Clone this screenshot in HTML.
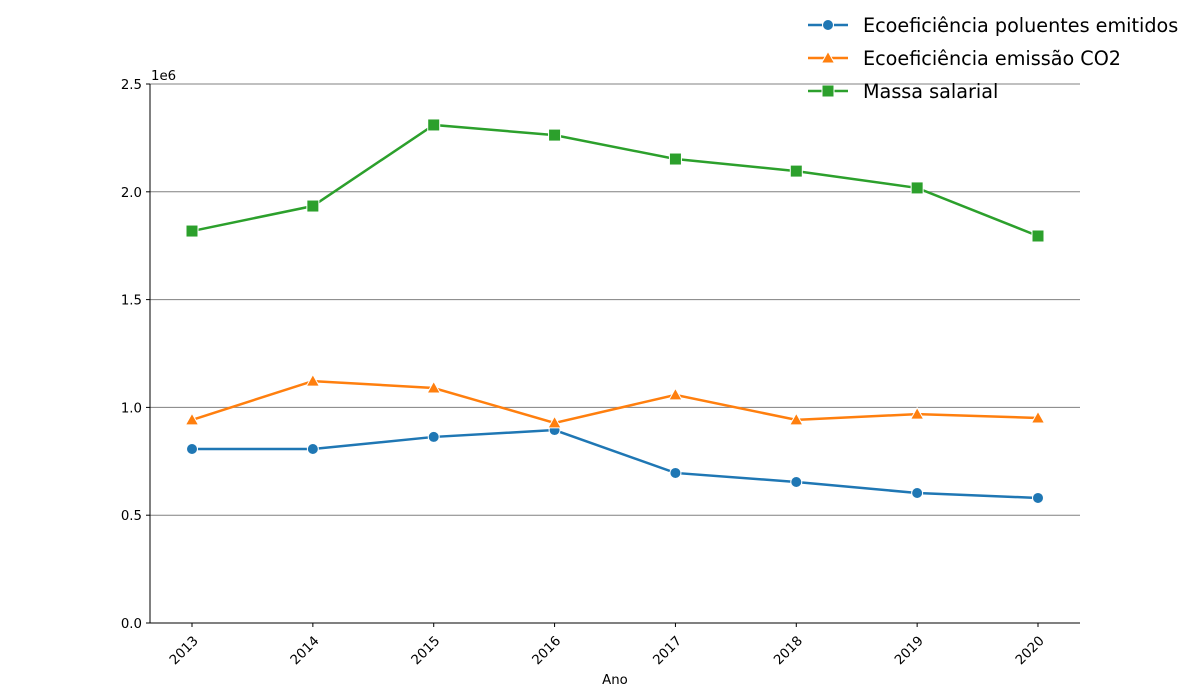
<!DOCTYPE html>
<html><head><meta charset="utf-8"><style>
html,body{margin:0;padding:0;background:#fff;}
svg{display:block;font-family:"DejaVu Sans","Liberation Sans",sans-serif;}
</style></head><body>
<svg id="chart" width="1200" height="700"></svg>
<script>
const years = ["2013","2014","2015","2016","2017","2018","2019","2020"];
const poluentes = [0.807,0.807,0.863,0.895,0.696,0.654,0.603,0.580];
const co2 = [0.942,1.122,1.090,0.928,1.058,0.942,0.969,0.951];
const massa = [1.818,1.934,2.310,2.263,2.152,2.096,2.018,1.795];
const yTicks = [0,0.5,1.0,1.5,2.0,2.5];
const yTickLabels = ["0.0","0.5","1.0","1.5","2.0","2.5"];

const NS="http://www.w3.org/2000/svg";
const svg=document.getElementById('chart');
const L=150,R=1080,T=84,B=623;
const yMax=2.5;
function xs(i){return 192+i*(1038-192)/(years.length-1);}
function ys(v){return B-(v/yMax)*(B-T);}
function mk(tag,attrs,parent){const e=document.createElementNS(NS,tag);for(const k in attrs)e.setAttribute(k,attrs[k]);(parent||svg).appendChild(e);return e;}

yTicks.forEach((v,i)=>{
  const y=ys(v);
  if(v>0){const g=mk('line',{x1:L,x2:R,y1:y,y2:y,stroke:'#808080','stroke-width':1});
  
  }
  mk('line',{x1:L-4,x2:L,y1:y,y2:y,stroke:'#000'});
  const t=mk('text',{x:L-8,y:y+5,'text-anchor':'end','font-size':13.3});
  t.textContent=yTickLabels[i];
  
  
});
const ex=mk('text',{x:L+1,y:T-4,'font-size':13.3});ex.textContent='1e6';



const sp1=mk('line',{x1:L,x2:L,y1:T,y2:B,stroke:'#000'});


const sp2=mk('line',{x1:L,x2:R,y1:B,y2:B,stroke:'#000'});



years.forEach((yr,i)=>{
  const x=xs(i);
  mk('line',{x1:x,x2:x,y1:B,y2:B+4,stroke:'#000'});
  const t=mk('text',{x:x,y:B+18,'text-anchor':'end','font-size':13.3,transform:`rotate(-45 ${x+4} ${B+10})`});
  t.textContent=yr;
  
  
});
const xl=mk('text',{x:615,y:684,'text-anchor':'middle','font-size':13.3});xl.textContent='Ano';



function marker(shape,x,y,color,parent){
  if(shape==='circle')return mk('circle',{cx:x,cy:y,r:5.5,fill:color,stroke:'#fff','stroke-width':1},parent);
  if(shape==='tri')return mk('polygon',{points:`${x},${y-6.5} ${x+6.5},${y+5} ${x-6.5},${y+5}`,fill:color,stroke:'#fff','stroke-width':1},parent);
  return mk('rect',{x:x-6,y:y-6,width:12,height:12,fill:color,stroke:'#fff','stroke-width':1},parent);
}
const series=[
  {name:'Ecoeficiência poluentes emitidos',data:poluentes,color:'#1f77b4',shape:'circle',id:'poluentes'},
  {name:'Ecoeficiência emissão CO2',data:co2,color:'#ff7f0e',shape:'tri',id:'co2'},
  {name:'Massa salarial',data:massa,color:'#2ca02c',shape:'square',id:'massa'}
];
series.forEach(s=>{
  const g=mk('g',{});
  
  
  const pl=mk('polyline',{points:s.data.map((v,i)=>xs(i)+','+ys(v)).join(' '),fill:'none',stroke:s.color,'stroke-width':2.5},g);
  
  
  s.data.forEach((v,i)=>{
    const m=marker(s.shape,xs(i),ys(v),s.color,g);
    
    
  });
});
const lg=mk('g',{});


series.forEach((s,i)=>{
  const y=25+i*33;
  const e=mk('g',{},lg);
  
  
  mk('line',{x1:808,x2:848,y1:y,y2:y,stroke:s.color,'stroke-width':2.5},e);
  marker(s.shape,828,y,s.color,e);
  const t=mk('text',{x:863,y:y+7,'font-size':19.2},e);t.textContent=s.name;
});
</script>
</body></html>
